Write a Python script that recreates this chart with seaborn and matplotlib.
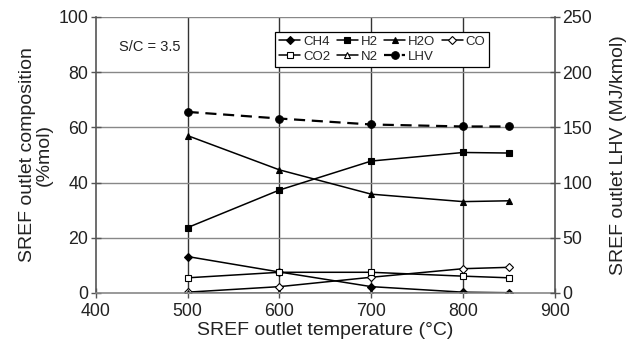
import numpy as np
import pandas as pd
import matplotlib
matplotlib.use("Agg")
import matplotlib.pyplot as plt
import seaborn as sns

# data
temps = [500, 600, 700, 800, 850]
ch4 = [13.2, 7.6, 2.3, 0.3, 0.1]
h2 = [23.7, 37.3, 47.8, 50.9, 50.7]
h2o = [57.0, 44.6, 35.8, 33.1, 33.4]
co = [0.3, 2.3, 5.7, 8.8, 9.3]
co2 = [5.5, 7.5, 7.5, 6.1, 5.5]
n2 = [0.0, 0.0, 0.0, 0.0, 0.0]
lhv = [164.0, 158.0, 152.6, 150.8, 150.8]

sns.set_theme(style="white")
plt.rcParams['font.family'] = ['Liberation Sans', 'DejaVu Sans']

fig = plt.figure(figsize=(6.43, 3.53), dpi=100)
ax = fig.add_axes([0.149, 0.170, 0.714, 0.782])
ax2 = ax.twinx()

series = [
    ("CH4", ch4, "D", "black", 4),
    ("H2", h2, "s", "black", 5),
    ("H2O", h2o, "^", "black", 5),
    ("CO", co, "D", "white", 4),
    ("CO2", co2, "s", "white", 5),
    ("N2", n2, "^", "white", 5),
]

handles = {}
for name, vals, mk, fc, ms in series:
    sns.lineplot(x=temps, y=vals, ax=ax, color="black", lw=1.1, marker=mk,
                 markersize=ms, markerfacecolor=fc, markeredgecolor="black",
                 markeredgewidth=0.8, label=name, legend=False)
    handles[name] = ax.lines[-1]

sns.lineplot(x=temps, y=lhv, ax=ax2, color="black", lw=1.6, linestyle=(0, (5, 3)),
             marker="o", markersize=5.5, markerfacecolor="black",
             markeredgecolor="black", label="LHV", legend=False)
lhv_line = ax2.lines[-1]

ax.set_xlim(400, 900)
ax.set_ylim(0, 100)
ax2.set_ylim(0, 250)
ax.set_xticks([400, 500, 600, 700, 800, 900])
ax.set_yticks([0, 20, 40, 60, 80, 100])
ax2.set_yticks([0, 50, 100, 150, 200, 250])

# grid: vertical dark, horizontal gray
for xv in [500, 600, 700, 800]:
    ax.axvline(xv, color="#333333", lw=1.0, zorder=0)
for yv in [20, 40, 60, 80, 100]:
    ax.axhline(yv, color="#888888", lw=1.0, zorder=0)

for a in (ax, ax2):
    for s in a.spines.values():
        s.set_visible(False)
ax.spines["left"].set_visible(True)
ax.spines["bottom"].set_visible(True)
ax2.spines["right"].set_visible(True)
for sp in (ax.spines["left"], ax.spines["bottom"], ax2.spines["right"]):
    sp.set_color("#555555")
    sp.set_linewidth(1.2)
ax.spines["bottom"].set_color("#888888")

ax.tick_params(axis="x", direction="inout", length=7, width=1, color="#555555",
               labelsize=12.8, labelcolor="#222222", pad=4, bottom=True)
ax.tick_params(axis="y", direction="inout", length=7, width=1, color="#555555",
               labelsize=12.8, labelcolor="#222222", pad=2, left=True)
ax2.tick_params(axis="y", direction="inout", length=7, width=1, color="#555555",
                labelsize=12.8, labelcolor="#222222", pad=2, right=True)

ax.set_xlabel("SREF outlet temperature (°C)", fontsize=14, color="#222222", labelpad=1)
ax.set_ylabel("SREF outlet composition\n(%mol)", fontsize=14, color="#222222",
              labelpad=4, linespacing=1.0)
ax2.set_ylabel("SREF outlet LHV (MJ/kmol)", fontsize=14, color="#222222", labelpad=13)

ax.text(0.05, 0.875, "S/C = 3.5", transform=ax.transAxes, fontsize=10.5,
        color="#222222")

order = ["CH4", "CO2", "H2", "N2", "H2O", "LHV", "CO"]
hl = [lhv_line if n == "LHV" else handles[n] for n in order]
leg = ax2.legend(hl, order, ncol=4, loc="upper left",
                 bbox_to_anchor=(0.391, 0.946), fontsize=9.5, frameon=True,
                 fancybox=False, framealpha=1, edgecolor="black",
                 handlelength=1.6, handletextpad=0.2, columnspacing=0.5,
                 borderpad=0.3, labelspacing=0.2, borderaxespad=0)
leg.get_frame().set_linewidth(0.9)

fig.savefig("out.png", dpi=100)
